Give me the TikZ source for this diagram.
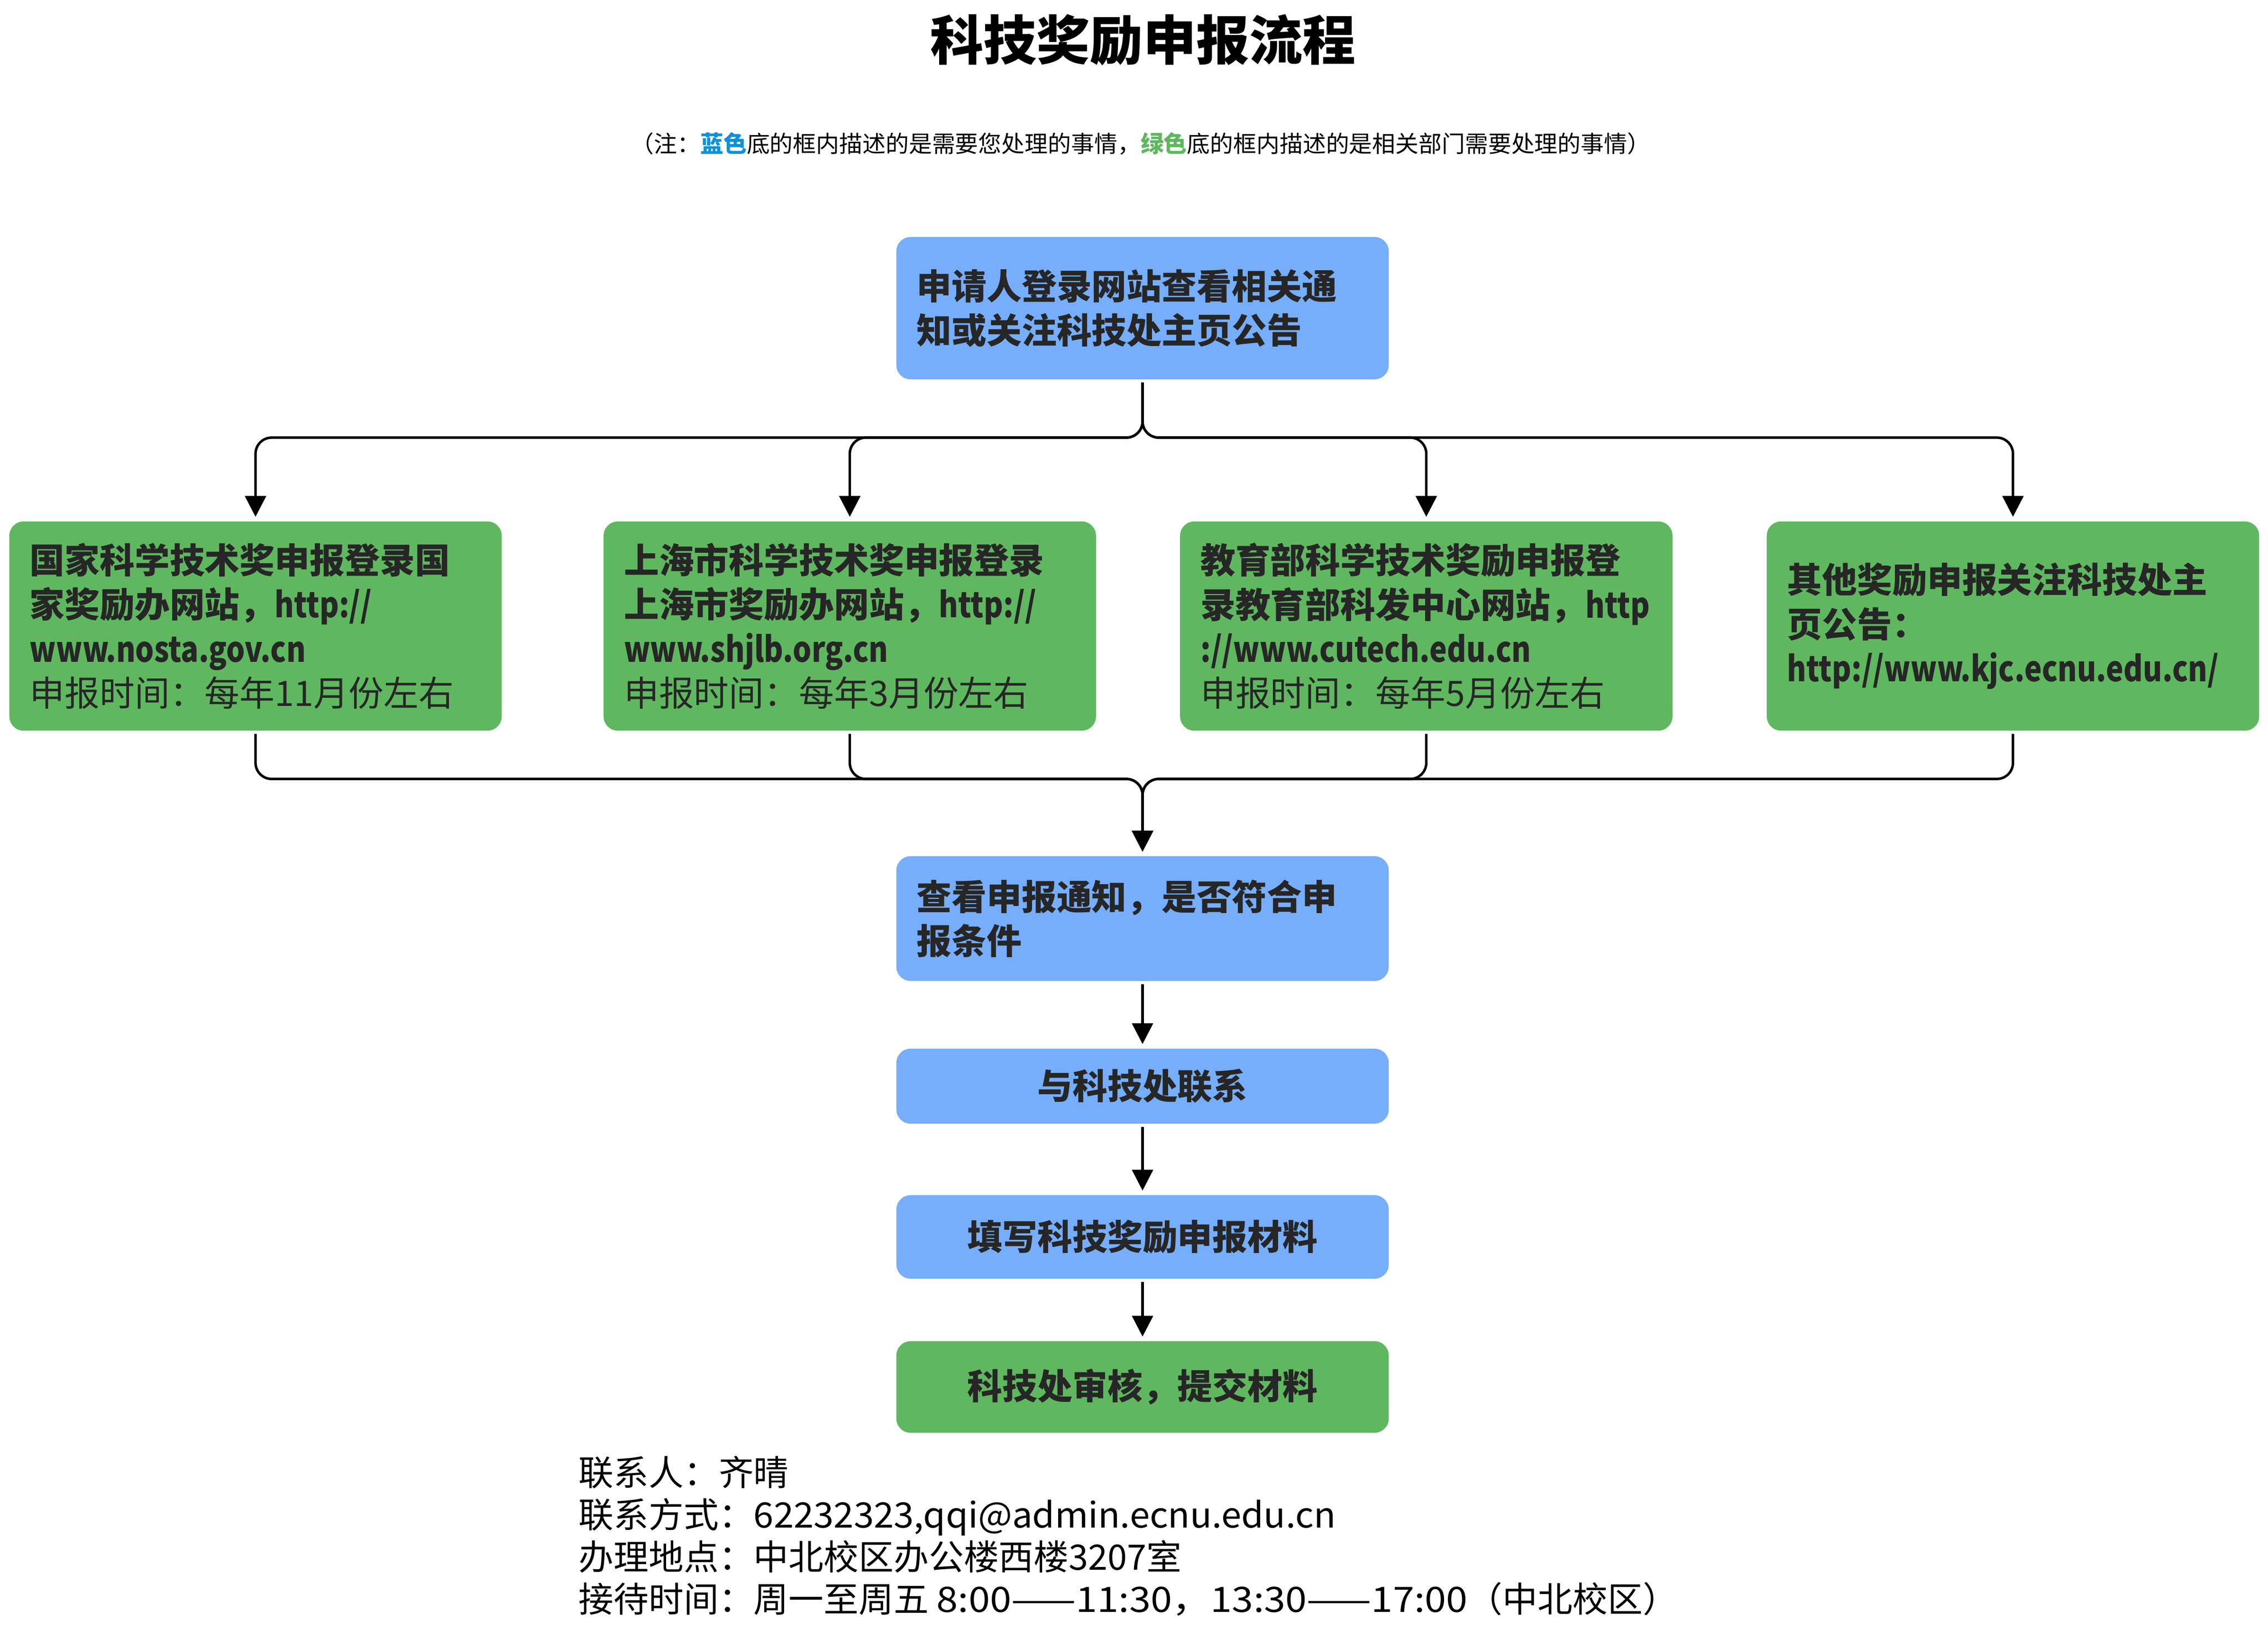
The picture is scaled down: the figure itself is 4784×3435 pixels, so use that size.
\documentclass[tikz,border=0pt]{standalone}
\usepackage{fontspec}
\setmainfont{Noto Sans CJK SC}
\usetikzlibrary{arrows.meta}
\definecolor{boxblue}{HTML}{76AEFC}
\definecolor{boxgreen}{HTML}{5FB85F}
\definecolor{txtdark}{HTML}{262626}
\definecolor{noteblue}{HTML}{0B92DA}
\definecolor{notegreen}{HTML}{5DB85C}
\newcommand{\narrowlat}[1]{{\addfontfeature{FakeStretch=0.84}#1}}
\newcommand{\widelat}[1]{{\addfontfeature{FakeStretch=1.1}#1}}
\begin{document}
\begin{tikzpicture}[x=0.01cm,y=-0.01cm,
  box/.style={rectangle, rounded corners=0.3cm, inner xsep=0.43cm, inner ysep=0pt,
    text width=9.52cm, text=txtdark},
  leftbox/.style={box, align=left, font=\fontsize{21}{26.5}\selectfont\bfseries},
  midbox/.style={box, align=center, font=\fontsize{21}{25.3}\selectfont\bfseries},
  blue/.style={fill=boxblue},
  green/.style={fill=boxgreen},
  conn/.style={line width=1.5pt, rounded corners=0.34cm,
    -{Triangle[length=0.44cm,width=0.44cm]}, shorten >=0.09cm, shorten <=0.06cm},
  plain/.style={inner sep=0pt, text=black}
]
\useasboundingbox (0,0) rectangle (4784,3435);

% title and note
\node[plain, font=\fontsize{31.9}{38}\selectfont\bfseries] (title) at (2411,84) {科技奖励申报流程};
\node[plain, font=\fontsize{13.9}{17}\selectfont] (note) at (2406,303)
  {（注：{\bfseries\color{noteblue}蓝色}底的框内描述的是需要您处理的事情，{\bfseries\color{notegreen}绿色}底的框内描述的是相关部门需要处理的事情）};

% boxes
\node[leftbox, blue, minimum height=3cm] (top) at (2410,650)
  {申请人登录网站查看相关通\\知或关注科技处主页公告};

\node[leftbox, green, minimum height=4.41cm] (g1) at (539,1320.5)
  {国家科学技术奖申报登录国\\家奖励办网站，\narrowlat{http://}\\\narrowlat{www.nosta.gov.cn}\\{\mdseries 申报时间：每年11月份左右}};
\node[leftbox, green, minimum height=4.41cm] (g2) at (1792.5,1320.5)
  {上海市科学技术奖申报登录\\上海市奖励办网站，\narrowlat{http://}\\\narrowlat{www.shjlb.org.cn}\\{\mdseries 申报时间：每年3月份左右}};
\node[leftbox, green, minimum height=4.41cm] (g3) at (3008.5,1320.5)
  {教育部科学技术奖励申报登\\录教育部科发中心网站，\narrowlat{http}\\\narrowlat{://www.cutech.edu.cn}\\{\mdseries 申报时间：每年5月份左右}};
\node[leftbox, green, minimum height=4.41cm] (g4) at (4246,1320.5)
  {其他奖励申报关注科技处主\\页公告：\\\narrowlat{http://www.kjc.ecnu.edu.cn/}};

\node[leftbox, blue, minimum height=2.63cm] (check) at (2410,1937.5)
  {查看申报通知，是否符合申\\报条件};
\node[midbox, blue, minimum height=1.58cm] (contact) at (2410,2291) {与科技处联系};
\node[midbox, blue, minimum height=1.76cm] (fill) at (2410,2609) {填写科技奖励申报材料};
\node[midbox, green, minimum height=1.93cm] (review) at (2410,2925.5) {科技处审核，提交材料};

% contact info
\node[plain, anchor=west, align=left, font=\fontsize{21}{25.3}\selectfont] (info) at (1220,3240)
  {联系人：齐晴\\联系方式：{\addfontfeature{FakeStretch=1.03}62232323,qqi@admin.ecnu.edu.cn}\\办理地点：中北校区办公楼西楼3207室\\接待时间：周一至周五 \widelat{8:00——11:30，13:30——17:00}（中北校区）};

% connectors
\coordinate (busT) at (2410,923);
\coordinate (busB) at (2410,1643);
\foreach \g in {g1,g2,g3,g4}{
  \draw[conn] (top.south) -- (busT) -| (\g.north);
  \draw[conn] (\g.south) |- (busB) -- (check.north);
}
\draw[conn] (check.south) -- (contact.north);
\draw[conn] (contact.south) -- (fill.north);
\draw[conn] (fill.south) -- (review.north);
\end{tikzpicture}
\end{document}
